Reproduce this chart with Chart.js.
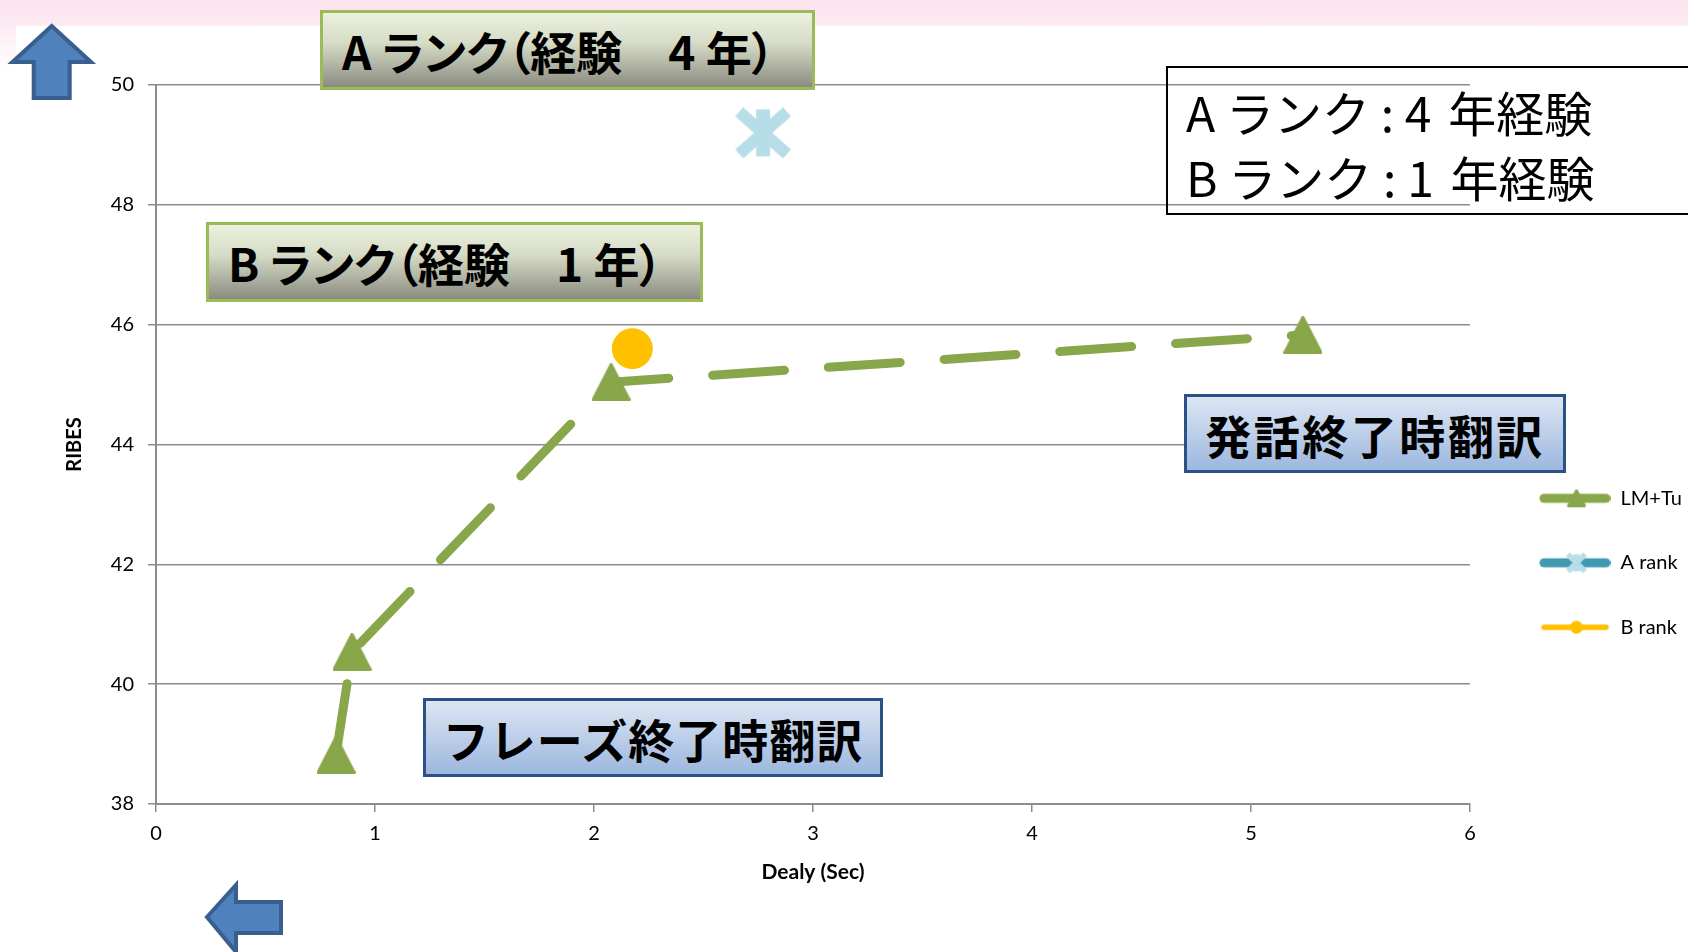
<!DOCTYPE html>
<html lang="ja">
<head>
<meta charset="UTF-8">
<title>RIBES / Delay</title>
<script src="https://cdn.jsdelivr.net/npm/chart.js"></script>
<style>
    html, body { margin: 0; padding: 0; width: 1688px; height: 952px; overflow: hidden; background: #fff; }
    #band { position: absolute; left: 0; top: 0; width: 1688px; height: 26px; background: linear-gradient(#fce3ee, #fdebf3); }
    #edge { position: absolute; left: 0; top: 26px; width: 16px; height: 44px; background: linear-gradient(#fdebf3, #fff); }
    #chart { position: absolute; left: 0; top: 0; }
    .note { position: absolute; box-sizing: border-box; display: flex; align-items: center; white-space: pre; color: #000;
            font-family: "Noto Sans CJK JP", sans-serif; }
    .rank { height: 80px; border: 3px solid #9bbb59; padding-left: 19px; font-size: 46px; font-weight: 700;
            font-feature-settings: "palt";
            background: linear-gradient(#ebf1df 0%, #d6dcc6 40%, #abae9e 75%, #888b7e 100%); }
    .timing { height: 79px; border: 3px solid #2a5287; justify-content: center; font-size: 46px; font-weight: 700;
              letter-spacing: 1px; background: linear-gradient(#dde6f3, #9cb7df); }
    #legendNote { left: 1166px; top: 66px; width: 560px; height: 149px; border: 2px solid #000; display: block;
                  padding: 11px 0 0 18px; font-size: 48px; line-height: 64.5px; background: transparent; }
    #legendNote .gap { margin-right: 6px; }
    #arrows { position: absolute; left: 0; top: 0; }
</style>
</head>
<body>
<div id="band"></div>
<div id="edge"></div>
<canvas id="chart" width="1688" height="952"></canvas>

<div class="note rank" style="left:320px; top:10px; width:495px;">A ランク（経験　4 年）</div>
<div class="note rank" style="left:206px; top:222px; width:497px;">B ランク（経験　1 年）</div>
<div class="note" id="legendNote">A ランク : <span class="gap">4</span> 年経験
B ランク : <span class="gap">1</span> 年経験</div>
<div class="note timing" style="left:1184px; top:394px; width:382px; letter-spacing:2.5px;">発話終了時翻訳</div>
<div class="note timing" style="left:423px; top:698px; width:460px;">フレーズ終了時翻訳</div>

<svg id="arrows" width="1688" height="952">
    <polygon points="51.7,26 91,62 69.7,62 69.7,98 33.7,98 33.7,62 12.5,62"
             fill="#4f81bd" stroke="#3a5f8e" stroke-width="4"/>
    <polygon points="207,917 236,885 236,902 281,902 281,933 236,933 236,952"
             fill="#4f81bd" stroke="#3a5f8e" stroke-width="4"/>
</svg>

<script>
    // delay (sec) and RIBES per system
    const lmTuDelay = [0.822, 0.895, 2.078, 5.237];
    const lmTuRibes = [38.82, 40.54, 45.04, 45.83];
    const aRankDelay = [2.772];
    const aRankRibes = [49.2];
    const bRankDelay = [2.175];
    const bRankRibes = [45.6];

    const seriesNames = ['LM+Tu', 'A rank', 'B rank'];
    const xTicks = {min: 0, max: 6, step: 1};
    const yTicks = {min: 38, max: 50, step: 2};

    const GREEN = '#88a64a';
    const TEAL = '#4199b0';
    const ICE = '#b7dee8';
    const GOLD = '#ffc000';
    const GRID = '#8c8c8c';

    Chart.defaults.font.family = "Lato, 'Noto Sans', sans-serif";
    Chart.defaults.color = '#000';

    function icon(w, h, paint) {
        const c = document.createElement('canvas');
        c.width = w;
        c.height = h;
        paint(c.getContext('2d'));
        return c;
    }

    function triangle(ctx, cx, cy, w, h, color) {
        ctx.fillStyle = color;
        ctx.strokeStyle = color;
        ctx.lineWidth = 3;
        ctx.lineJoin = 'round';
        ctx.beginPath();
        ctx.moveTo(cx, cy - h / 2 + 1.5);
        ctx.lineTo(cx + w / 2 - 1.5, cy + h / 2 - 1.5);
        ctx.lineTo(cx - w / 2 + 1.5, cy + h / 2 - 1.5);
        ctx.closePath();
        ctx.fill();
        ctx.stroke();
    }

    // X with a vertical bar through it (the "star" marker)
    function star(ctx, cx, cy, w, h, t, color) {
        const len = Math.hypot(w, h);
        const dx = w / 2 - (t / 2) * (h / len);
        const dy = h / 2 - (t / 2) * (w / len);
        ctx.strokeStyle = color;
        ctx.fillStyle = color;
        ctx.lineWidth = t;
        ctx.lineCap = 'butt';
        ctx.beginPath();
        ctx.moveTo(cx - dx, cy - dy);
        ctx.lineTo(cx + dx, cy + dy);
        ctx.moveTo(cx + dx, cy - dy);
        ctx.lineTo(cx - dx, cy + dy);
        ctx.stroke();
        ctx.fillRect(cx - t * 0.58, cy - h / 2 + 2, t * 1.16, h - 4);
    }

    function sample(ctx, color, width) {
        ctx.strokeStyle = color;
        ctx.lineWidth = width;
        ctx.lineCap = 'round';
        ctx.beginPath();
        ctx.moveTo(29.5, 12);
        ctx.lineTo(91.5, 12);
        ctx.stroke();
    }

    const triMarker = icon(39, 38, ctx => triangle(ctx, 19.5, 19, 39, 38, GREEN));
    const starMarker = icon(56, 51, ctx => star(ctx, 28, 25.5, 56, 51, 12, ICE));

    const legendIcons = [
        icon(96, 24, ctx => { sample(ctx, GREEN, 9); triangle(ctx, 62, 12, 19, 18, GREEN); }),
        icon(96, 24, ctx => { sample(ctx, TEAL, 9); star(ctx, 62, 12, 21, 21, 5.5, ICE); }),
        icon(96, 24, ctx => {
            sample(ctx, GOLD, 5.5);
            ctx.fillStyle = GOLD;
            ctx.beginPath();
            ctx.arc(62, 12, 6.5, 0, Math.PI * 2);
            ctx.fill();
        }),
    ];

    const points = (xs, ys) => xs.map((x, i) => ({x: x, y: ys[i]}));

    new Chart(document.getElementById('chart'), {
        type: 'scatter',
        data: {
            datasets: [
                {
                    label: seriesNames[0],
                    data: points(lmTuDelay, lmTuRibes),
                    showLine: true,
                    borderColor: GREEN,
                    backgroundColor: GREEN,
                    borderWidth: 9,
                    borderDash: [72, 44],
                    borderCapStyle: 'round',
                    borderJoinStyle: 'round',
                    pointStyle: triMarker,
                    pointRadius: 19,
                },
                {
                    label: seriesNames[1],
                    data: points(aRankDelay, aRankRibes),
                    showLine: true,
                    borderColor: TEAL,
                    backgroundColor: ICE,
                    borderWidth: 9,
                    pointStyle: starMarker,
                    pointRadius: 25,
                },
                {
                    label: seriesNames[2],
                    data: points(bRankDelay, bRankRibes),
                    showLine: true,
                    borderColor: GOLD,
                    backgroundColor: GOLD,
                    borderWidth: 5,
                    pointStyle: 'circle',
                    pointRadius: 20,
                    pointBorderWidth: 1,
                },
            ],
        },
        options: {
            responsive: false,
            animation: false,
            events: [],
            layout: {padding: {top: 85, right: 0, bottom: 63, left: 0}},
            scales: {
                x: {
                    type: 'linear',
                    min: xTicks.min,
                    max: xTicks.max,
                    ticks: {stepSize: xTicks.step, padding: 10, font: {size: 20}},
                    grid: {drawOnChartArea: false, tickLength: 8, color: GRID, lineWidth: 1.5},
                    border: {color: GRID, width: 2},
                    title: {display: true, text: 'Dealy (Sec)', font: {size: 21, weight: 'bold'}, padding: {top: 15, bottom: 4}},
                    afterFit(scale) { scale.height = 85; },
                },
                y: {
                    min: yTicks.min,
                    max: yTicks.max,
                    ticks: {stepSize: yTicks.step, padding: 14, font: {size: 20}},
                    grid: {tickLength: 8, color: GRID, lineWidth: 1.5},
                    border: {color: GRID, width: 2},
                    title: {display: true, text: 'RIBES', font: {size: 20, weight: 'bold'}, padding: {top: 63, bottom: 0}},
                    afterFit(scale) { scale.width = 156; },
                },
            },
            plugins: {
                tooltip: {enabled: false},
                legend: {
                    position: 'right',
                    align: 'start',
                    maxWidth: 218,
                    // empty title only pushes the entries down
                    title: {display: true, text: '', font: {size: 12}, padding: {top: 344.4, bottom: 0}},
                    labels: {
                        usePointStyle: true,
                        pointStyleWidth: 96,
                        padding: 44.5,
                        font: {size: 20},
                        generateLabels(chart) {
                            const items = Chart.defaults.plugins.legend.labels.generateLabels(chart);
                            items.forEach((item, i) => { item.pointStyle = legendIcons[i]; });
                            return items;
                        },
                    },
                },
            },
        },
    });
</script>
</body>
</html>
